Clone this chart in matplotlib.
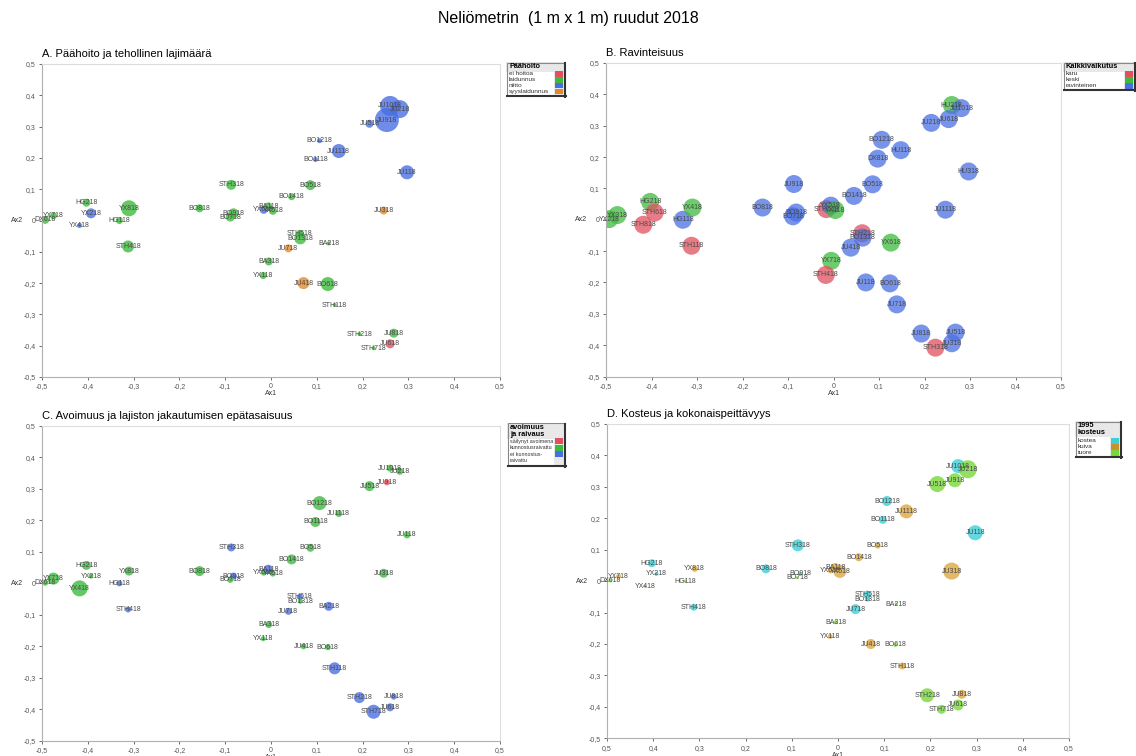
import matplotlib.pyplot as plt
from matplotlib.patches import Rectangle

plt.rcParams['font.family'] = ['Liberation Sans', 'DejaVu Sans']

# ruudut ja niiden ordinaatiopisteet (Ax1, Ax2)
nimet = ['DX618', 'YX718', 'HG218', 'YX218', 'YX418', 'HG118', 'YX818', 'STH418',
         'BO818', 'STH318', 'BO918', 'BO718', 'YX618', 'BA118', 'YX518',
         'JU1018', 'JU218', 'JU918', 'JU518', 'BO1218', 'JU1118', 'BO1118', 'JU118',
         'BO518', 'BO1418', 'JU318', 'STH518', 'BO1318', 'JU718', 'BA218', 'BA318',
         'YX118', 'JU418', 'BO618', 'STH118', 'STH218', 'JU818', 'JU618', 'STH718']
ax1 = [-0.493, -0.475, -0.403, -0.393, -0.418, -0.331, -0.31, -0.312,
       -0.156, -0.087, -0.082, -0.089, -0.016, -0.006, 0.004,
       0.26, 0.281, 0.253, 0.215, 0.106, 0.148, 0.097, 0.297,
       0.086, 0.045, 0.246, 0.063, 0.064, 0.038, 0.126, -0.005,
       -0.017, 0.071, 0.124, 0.139, 0.193, 0.268, 0.26, 0.224]
ax2 = [0.002, 0.015, 0.057, 0.023, -0.016, 0.0, 0.039, -0.083,
       0.039, 0.114, 0.023, 0.011, 0.034, 0.045, 0.031,
       0.366, 0.356, 0.321, 0.309, 0.255, 0.222, 0.195, 0.154,
       0.113, 0.076, 0.032, -0.043, -0.057, -0.089, -0.073, -0.131,
       -0.176, -0.2, -0.203, -0.27, -0.363, -0.36, -0.394, -0.408]

# A: päähoito ja tehollinen lajimäärä
paahoito = ['laidunnus', 'laidunnus', 'laidunnus', 'niitto', 'niitto', 'laidunnus', 'laidunnus', 'laidunnus',
            'laidunnus', 'laidunnus', 'laidunnus', 'laidunnus', 'niitto', 'laidunnus', 'laidunnus',
            'niitto', 'niitto', 'niitto', 'niitto', 'niitto', 'niitto', 'niitto', 'niitto',
            'laidunnus', 'laidunnus', 'syyslaidunnus', 'laidunnus', 'laidunnus', 'syyslaidunnus', 'laidunnus', 'laidunnus',
            'laidunnus', 'syyslaidunnus', 'laidunnus', 'laidunnus', 'laidunnus', 'laidunnus', 'ei hoitoa', 'laidunnus']
lajimaara = [4, 3.5, 4, 5, 2.5, 3.5, 8, 6,
             4, 5, 5, 4.5, 4, 4, 4,
             10, 9, 12, 4, 2.5, 7, 2.5, 7,
             5, 3.5, 4, 4, 6, 4, 2, 4,
             3.5, 6, 7, 2, 2, 4.5, 4.5, 2]

# B: ravinteisuus (omat nimiöt)
nimet_b = ['YX218', 'YX318', 'HG218', 'STH618', 'STH818', 'HG118', 'YX418', 'STH118',
           'BO818', 'JU918', 'BO918', 'BO718', 'STH518', 'YX518', 'YX118',
           'HU218', 'JU1018', 'JU618', 'JU218', 'BO1218', 'HU118', 'DX818', 'HU318',
           'BO518', 'BO1418', 'JU1118', 'STH218', 'BO1318', 'JU418', 'YX618', 'YX718',
           'STH418', 'JU118', 'BO618', 'JU718', 'JU818', 'JU518', 'JU318', 'STH318']
kalkki = ['keski', 'keski', 'keski', 'karu', 'karu', 'ravinteinen', 'keski', 'karu',
          'ravinteinen', 'ravinteinen', 'ravinteinen', 'ravinteinen', 'karu', 'ravinteinen', 'keski',
          'keski', 'ravinteinen', 'ravinteinen', 'ravinteinen', 'ravinteinen', 'ravinteinen', 'ravinteinen', 'ravinteinen',
          'ravinteinen', 'ravinteinen', 'ravinteinen', 'karu', 'ravinteinen', 'ravinteinen', 'keski', 'keski',
          'karu', 'ravinteinen', 'ravinteinen', 'ravinteinen', 'ravinteinen', 'ravinteinen', 'ravinteinen', 'karu']

# C: avoimuus ja epätasaisuus
avoimuus = ['kr', 'kr', 'kr', 'kr', 'kr', 'ei', 'kr', 'ei',
            'kr', 'ei', 'ei', 'kr', 'kr', 'ei', 'kr',
            'kr', 'kr', 'sa', 'kr', 'kr', 'kr', 'kr', 'kr',
            'kr', 'kr', 'kr', 'ei', 'kr', 'ei', 'ei', 'kr',
            'kr', 'kr', 'kr', 'ei', 'ei', 'ei', 'ei', 'ei']
epatasaisuus = [3, 6, 4.5, 2.5, 8, 3, 4.5, 3,
                5, 4, 3.5, 3, 3, 4.5, 3,
                3.5, 3.5, 3, 5, 7, 3.5, 5, 3.5,
                4, 5, 4.5, 3, 2.5, 3.5, 4.5, 3.5,
                2.5, 3, 3, 6, 5.5, 3, 4, 7]

# D: kosteus 1995 ja kokonaispeittävyys
kosteus = ['tuore', 'kuiva', 'kostea', 'kostea', 'kuiva', 'tuore', 'kuiva', 'kostea',
           'kostea', 'kostea', 'kostea', 'tuore', 'kuiva', 'kuiva', 'kuiva',
           'kostea', 'tuore', 'tuore', 'tuore', 'kostea', 'kuiva', 'kostea', 'kostea',
           'kuiva', 'kuiva', 'kuiva', 'kostea', 'kostea', 'kostea', 'tuore', 'tuore',
           'kuiva', 'kuiva', 'tuore', 'kuiva', 'tuore', 'kuiva', 'tuore', 'tuore']
peittavyys = [2, 2.5, 4, 2, 1.5, 1.5, 3, 3.5,
              4.5, 6, 2, 1.5, 3, 4, 6.5,
              7, 9, 7, 8, 5, 7, 4, 7.5,
              3, 4, 8.5, 4, 2.5, 5, 1.5, 2,
              2.5, 5, 2, 3.5, 7, 4.5, 5.5, 4.5]

W, H = 1136, 756
fig = plt.figure(figsize=(W / 100, H / 100), dpi=100)
fig.text(0.5, 1 - 18 / H, 'Neliömetrin  (1 m x 1 m) ruudut 2018', ha='center', va='center', fontsize=11.5)

ticks = [round(-0.5 + 0.1 * i, 1) for i in range(11)]


def fmt(v, absolute=False):
    if absolute:
        v = abs(v)
    if v == 0:
        return '0'
    return ('%.1f' % v).replace('.', ',')


def make_axes(box, title, abs_x=False):
    l, t, r, b = box
    ax = fig.add_axes([l / W, 1 - b / H, (r - l) / W, (b - t) / H])
    ax.set_xlim(-0.5, 0.5)
    ax.set_ylim(-0.5, 0.5)
    ax.set_xticks(ticks)
    ax.set_yticks(ticks)
    ax.set_xticklabels([fmt(v, abs_x) for v in ticks])
    ax.set_yticklabels([fmt(v) for v in ticks])
    ax.tick_params(labelsize=5, colors='#555555', length=2.5, width=0.6, pad=2)
    for s in ['left', 'bottom']:
        ax.spines[s].set_color('#b0b0b0')
    for s in ['top', 'right']:
        ax.spines[s].set_color('#dddddd')
    ax.set_xlabel('Ax1', fontsize=5, color='#333333', labelpad=0)
    ax.set_ylabel('Ax2', fontsize=5, color='#333333', rotation=0, va='center')
    ax.yaxis.set_label_coords(-0.055, 0.5)
    ax.set_title(title, loc='left', fontsize=8, pad=5)
    return ax


def bubbles(ax, labels, colors, radius, alpha=0.8):
    sizes = [(1.44 * r) ** 2 for r in radius]
    ax.scatter(ax1, ax2, s=sizes, c=colors, alpha=alpha, linewidths=0, zorder=2)
    for n, x, y in zip(labels, ax1, ax2):
        ax.text(x, y, n, fontsize=5, color='#4a4a4a', ha='center', va='center', zorder=3)


def legend_box(box, header, entries, colors, fs=4.6, start=None):
    l, t, r, b = box
    lg = fig.add_axes([l / W, 1 - b / H, (r - l) / W, (b - t) / H])
    w, h = r - l, b - t
    lg.set_xlim(0, w)
    lg.set_ylim(h, 0)
    lg.axis('off')
    nh = len(header)
    hh = 3 + 6.5 * nh
    lg.add_patch(Rectangle((0, 0), w, h, facecolor='white', edgecolor='none'))
    lg.add_patch(Rectangle((0, 0), w, hh, facecolor='#e8e8e8', edgecolor='none'))
    lg.add_patch(Rectangle((w - 12, 0), 10, h, facecolor='#e8e8e8', edgecolor='none'))
    for i, line in enumerate(header):
        lg.text(3, 4.5 + 6.8 * i, line, fontsize=5.3, fontweight='bold', va='center', ha='left')
    y = start if start else hh + 2
    for (txt, step), col in zip(entries, colors):
        lg.text(3, y, txt, fontsize=fs, va='center', ha='left', color='#333333')
        if col is not None:
            lg.add_patch(Rectangle((w - 11, y - 3), 8, 6, facecolor=col, edgecolor='none'))
        y += step
    lg.add_patch(Rectangle((0.5, 0.5), w - 1.5, h - 1.5, facecolor='none', edgecolor='#888888', lw=0.8))
    lg.plot([w - 0.8, w - 0.8], [1, h], color='#333333', lw=1.5, clip_on=False)
    lg.plot([1, w], [h - 0.8, h - 0.8], color='#333333', lw=1.5, clip_on=False)


# A
hoito_col = {'ei hoitoa': '#e0505f', 'laidunnus': '#3dbb3d', 'niitto': '#4a6fe3', 'syyslaidunnus': '#e0882e'}
axA = make_axes((42, 64, 500, 377), 'A. Päähoito ja tehollinen lajimäärä')
bubbles(axA, nimet, [hoito_col[k] for k in paahoito], lajimaara)
legend_box((506, 62, 566, 97), ['Päähoito'],
           [('ei hoitoa', 6), ('laidunnus', 6), ('niitto', 6), ('syyslaidunnus', 6)],
           list(hoito_col.values()), start=11.5)

# B
kalkki_col = {'karu': '#e0505f', 'keski': '#3dbb3d', 'ravinteinen': '#4a6fe3'}
axB = make_axes((606, 63, 1061, 376.5), 'B. Ravinteisuus')
bubbles(axB, nimet_b, [kalkki_col[k] for k in kalkki], [9] * len(nimet_b), alpha=0.75)
legend_box((1063, 62, 1136, 91), ['Kalkkivaikutus'],
           [('karu', 6.2), ('keski', 6.2), ('ravinteinen', 6.2)], list(kalkki_col.values()), start=11.5)

# C
avo_col = {'sa': '#e0505f', 'kr': '#3dbb3d', 'ei': '#4a6fe3'}
axC = make_axes((42, 426, 500, 740.7), 'C. Avoimuus ja lajiston jakautumisen epätasaisuus')
bubbles(axC, nimet, [avo_col[k] for k in avoimuus], epatasaisuus)
legend_box((507, 423, 566, 467), ['avoimuus', 'ja raivaus'],
           [('säilynyt avoimena', 6.3), ('kunnostusraivattu', 6.3), ('ei kunnostus-', 6), ('raivattu', 6)],
           ['#e0505f', '#3dbb3d', '#4a6fe3', None], fs=3.9, start=18.5)

# D
kost_col = {'kostea': '#3ccfd8', 'kuiva': '#dca640', 'tuore': '#78d83a'}
axD = make_axes((607, 424, 1069, 738.3), 'D. Kosteus ja kokonaispeittävyys', abs_x=True)
bubbles(axD, nimet, [kost_col[k] for k in kosteus], peittavyys)
legend_box((1075, 421, 1122, 458), ['1995', 'kosteus'],
           [('kostea', 6), ('kuiva', 6), ('tuore', 6)], ['#3ccfd8', '#c89030', '#78d83a'], start=19.5)

fig.savefig('out.png', dpi=100)
